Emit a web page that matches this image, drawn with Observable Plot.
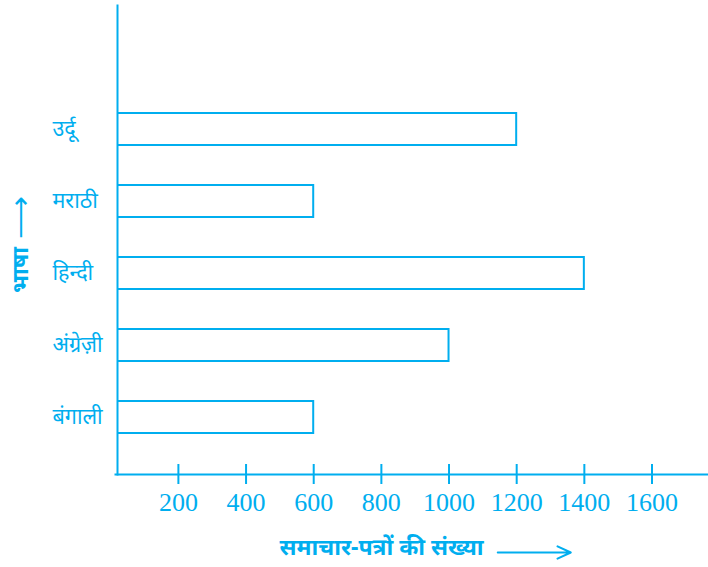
<!DOCTYPE html>
<html><head><meta charset="utf-8">
<script src="https://cdn.jsdelivr.net/npm/d3@7"></script>
<script src="https://cdn.jsdelivr.net/npm/@observablehq/plot@0.6"></script>
<style>html,body{margin:0;padding:0;background:#fff}</style>
</head><body><div id="chart"></div>
<script>
const languages = ["उर्दू", "मराठी", "हिन्दी", "अंग्रेज़ी", "बंगाली"];
const newspapers = [1200, 600, 1400, 1000, 600];
const xTicks = [200, 400, 600, 800, 1000, 1200, 1400, 1600];
const xLabel = "समाचार-पत्रों की संख्या";
const yLabel = "भाषा";
// x-label arrow span, in newspaper-count units
const xArrow = [{from: 1144, to: 1360, at: "बंगाली"}];

const data = languages.map((l, i) => ({language: l, count: newspapers[i]}));
const blue = "#00aeef";

const chart = Plot.plot({
  width: 708, height: 567,
  marginLeft: 117, marginRight: 0, marginTop: 5, marginBottom: 93,
  style: {color: blue, background: "white", fontFamily: "'Noto Sans', sans-serif", overflow: "visible"},
  x: {domain: [20, 1767], label: null},
  y: {domain: languages, paddingInner: 0.556, paddingOuter: 1.028, align: 0.723, label: null},
  marks: [
    Plot.barX(data, {x: "count", y: "language", fill: "white", stroke: blue, strokeWidth: 2, clip: true}),
    Plot.frame({anchor: "left", stroke: blue, strokeWidth: 2}),
    Plot.frame({anchor: "bottom", stroke: blue, strokeWidth: 2, insetLeft: -2}),
    Plot.axisX({ticks: xTicks, anchor: "bottom", label: null, tickSize: 20, dy: -10, stroke: blue, strokeWidth: 2, fill: "none"}),
    Plot.axisX({ticks: xTicks, anchor: "bottom", label: null, tickFormat: "d", tickSize: 0, tickPadding: 18, fontSize: 26, fontFamily: "'Liberation Serif', serif", fill: blue, stroke: "none"}),
    Plot.axisY({label: null, tickSize: 0, tickPadding: 65, textAnchor: "start", fontSize: 21.5, fill: blue}),
    Plot.text([xLabel], {frameAnchor: "bottom-left", textAnchor: "start", dx: 162, dy: 80, fontSize: 23, fontWeight: "bold", fill: blue}),
    Plot.arrow(xArrow, {x1: "from", x2: "to", y1: "at", y2: "at", dy: 135, stroke: blue, strokeWidth: 2, headLength: 11, headAngle: 50}),
    Plot.text([yLabel], {frameAnchor: "left", rotate: -90, dx: -97, dy: 53, fontSize: 23, fontWeight: "bold", fill: blue}),
    Plot.text(["⟶"], {frameAnchor: "left", rotate: -90, dx: -97, dy: -1, fontSize: 30, fill: blue})
  ]
});
document.getElementById("chart").append(chart);
</script>
</body></html>
